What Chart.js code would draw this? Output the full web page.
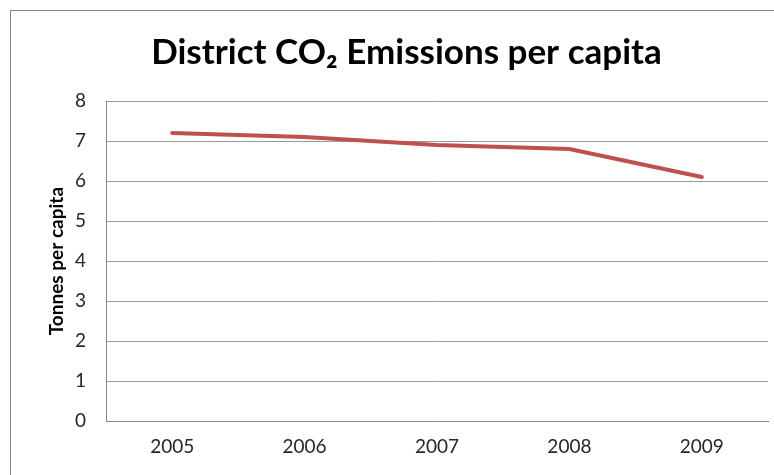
<!DOCTYPE html>
<html>
<head>
<meta charset="utf-8">
<script src="https://cdn.jsdelivr.net/npm/chart.js@4"></script>
<style>
  html, body { margin: 0; padding: 0; background: #fff; }
  #wrap { width: 774px; height: 475px; }
</style>
</head>
<body>
<div id="wrap"><canvas id="Chart" width="774" height="475"></canvas></div>
<script>
// values
var years = ['2005', '2006', '2007', '2008', '2009'];
var tonnesPerCapita = [7.2, 7.1, 6.9, 6.8, 6.1];
var yTicks = [0, 1, 2, 3, 4, 5, 6, 7, 8];

// grey frame round the chart, cut off on the right and bottom like the original
var framePlugin = {
  id: 'frame',
  beforeDraw: function (chart) {
    var c = chart.ctx;
    c.save();
    c.strokeStyle = '#878787';
    c.lineWidth = 1;
    c.strokeRect(10.5, 10.5, 1000, 1000);
    c.restore();
  }
};

var ctx = document.getElementById('Chart').getContext('2d');
var myChart = new Chart(ctx, {
  type: 'line',
  data: {
    labels: years,
    datasets: [{
      label: 'Tonnes per capita',
      data: tonnesPerCapita,
      borderColor: '#C0504D',
      backgroundColor: '#C0504D',
      borderWidth: 4,
      pointRadius: 0,
      tension: 0,
      borderCapStyle: 'round'
    }]
  },
  options: {
    responsive: false,
    animation: false,
    layout: { padding: { left: 45, right: 6, top: 14, bottom: 3 } },
    plugins: {
      legend: { display: false },
      tooltip: { enabled: false },
      title: {
        display: true,
        text: 'District CO\u2082 Emissions per capita',
        color: '#000',
        font: { family: 'Lato', size: 35, weight: 'bold', lineHeight: 1.2 },
        padding: { top: 18, bottom: 27 }
      }
    },
    scales: {
      x: {
        offset: true,
        grid: { display: false, drawTicks: false },
        border: { color: '#888', width: 1 },
        ticks: {
          color: '#262626',
          padding: 14,
          font: { family: 'Lato', size: 19 }
        }
      },
      y: {
        min: 0,
        max: 8,
        afterBuildTicks: function (axis) {
          axis.ticks = yTicks.map(function (v) { return { value: v }; });
        },
        afterFit: function (axis) {
          axis.width = 61;
        },
        grid: { color: '#999', drawTicks: false },
        border: { color: '#888', width: 1 },
        ticks: {
          color: '#262626',
          padding: 20,
          font: { family: 'Lato', size: 19 }
        },
        title: {
          display: true,
          text: 'Tonnes per capita',
          color: '#000',
          font: { family: 'Lato', size: 19, weight: 'bold' },
          padding: { top: 0, bottom: 8 }
        }
      }
    }
  },
  plugins: [framePlugin]
});
</script>
</body>
</html>
